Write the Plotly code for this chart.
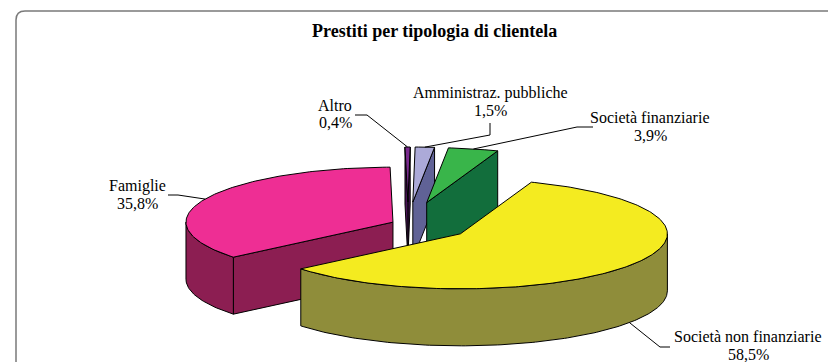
import numpy as np
import plotly.graph_objects as go

# --- data -------------------------------------------------------------------
categories = ["Altro", "Amministraz. pubbliche", "Società finanziarie",
              "Società non finanziarie", "Famiglie"]
shares = [0.4, 1.5, 3.9, 58.5, 35.8]          # percent of total loans

# --- styling ----------------------------------------------------------------
top_colors = ["#7A2A8E", "#ACAAD8", "#39B54A", "#F4EB20", "#EE2E94"]
side_colors = ["#4A1458", "#606296", "#126E3C", "#8F8D3A", "#8C1E52"]
pull = [0.40, 0.40, 0.40, 0.31, 0.08]          # explosion, fraction of radius

# label text centres and leader-line elbows (pixel space)
label_pos = [(335, 114), (490, 102), (650, 126.5), (748, 345.5), (137, 194.5)]
elbows = [[(355, 115), (367, 115)],
          [(490, 123), (490, 135)],
          [(593, 127), (577, 127)],
          [(670, 347), (660, 347)],
          [(168, 195), (178, 195)]]
LINE_GAP = 17.5

W, H = 828, 362
CX, CY = 408.0, 224.0        # pie centre
RX, RY = 207.0, 55.0         # ellipse radii of the top face
DEPTH = 57.0                 # thickness of the pie
START = 90.8                 # angle (deg) where the first slice begins, clockwise
FONT = "Liberation Serif, Times New Roman, serif"


def rim(cx, cy, t, dz=0.0):
    r = np.radians(t)
    return cx + RX * np.cos(r), cy - RY * np.sin(r) + dz


def arc(cx, cy, a, b, dz=0.0):
    n = max(2, int(abs(b - a)) + 2)
    ts = np.linspace(a, b, n)
    xs, ys = rim(cx, cy, ts, dz)
    return list(xs), list(ys)


def front_ranges(lo, hi):
    """Parts of [lo, hi] where the outer wall faces the viewer (sin < 0)."""
    out = []
    for k in range(-3, 3):
        a, b = -180 + 360 * k, 360 * k
        s, e = max(lo, a), min(hi, b)
        if e > s:
            out.append((s, e))
    return out


total = sum(shares)
fig = go.Figure()


def poly(xs, ys, color):
    xs = list(xs) + [xs[0]]
    ys = list(ys) + [ys[0]]
    fig.add_trace(go.Scatter(x=xs, y=ys, mode="lines", fill="toself",
                             fillcolor=color, line=dict(color="black", width=1),
                             hoverinfo="skip", showlegend=False))


slices = []
cum = 0.0
for i, v in enumerate(shares):
    hi = START - cum / total * 360.0
    lo = hi - v / total * 360.0
    cum += v
    mid = (hi + lo) / 2.0
    mr = np.radians(mid)
    e = pull[i] * RX
    cx = CX + e * np.cos(mr)
    cy = CY - e * (RY / RX) * np.sin(mr)
    slices.append(dict(i=i, hi=hi, lo=lo, mid=mid, cx=cx, cy=cy))

# back slices first, front slices last
for s in sorted(slices, key=lambda d: -np.sin(np.radians(d["mid"]))):
    i, hi, lo, cx, cy = s["i"], s["hi"], s["lo"], s["cx"], s["cy"]
    # radial walls that face the viewer
    for t, visible in ((lo, np.cos(np.radians(lo)) > 0),
                       (hi, np.cos(np.radians(hi)) < 0)):
        if visible:
            rx_, ry_ = rim(cx, cy, t)
            poly([cx, rx_, rx_, cx], [cy, ry_, ry_ + DEPTH, cy + DEPTH],
                 side_colors[i])
    # curved outer wall
    for a, b in front_ranges(lo, hi):
        xt, yt = arc(cx, cy, a, b)
        xb, yb = arc(cx, cy, b, a, DEPTH)
        poly(xt + xb, yt + yb, side_colors[i])
    # top face
    xa, ya = arc(cx, cy, hi, lo)
    poly([cx] + xa, [cy] + ya, top_colors[i])

# leader lines and two-line labels (name, percentage)
annotations = []
for s in slices:
    i, mid = s["i"], s["mid"]
    dz = DEPTH if np.sin(np.radians(mid)) < 0 else 0.0
    ax_, ay_ = rim(s["cx"], s["cy"], mid, dz)
    pts = elbows[i] + [(ax_, ay_)]
    fig.add_trace(go.Scatter(x=[p[0] for p in pts], y=[p[1] for p in pts],
                             mode="lines", line=dict(color="black", width=1),
                             hoverinfo="skip", showlegend=False))
    pct = f"{shares[i]:.1f}".replace(".", ",") + "%"
    lx, ly = label_pos[i]
    for txt, yy in ((categories[i], ly - LINE_GAP / 2),
                    (pct, ly + LINE_GAP / 2)):
        annotations.append(dict(x=lx, y=yy, xref="x", yref="y", text=txt,
                                showarrow=False, xanchor="center",
                                yanchor="middle",
                                font=dict(family=FONT, size=16, color="black")))

annotations.append(dict(x=434, y=31, xref="x", yref="y",
                        text="<b>Prestiti per tipologia di clientela</b>",
                        showarrow=False, xanchor="center", yanchor="middle",
                        font=dict(family=FONT, size=18, color="black")))

# rounded chart frame (open to the right and bottom)
frame = "M 16 370 L 16 20 Q 16 11 25 11 L 840 11"

fig.update_layout(
    width=W, height=H,
    margin=dict(l=0, r=0, t=0, b=0),
    paper_bgcolor="white", plot_bgcolor="white",
    font=dict(family=FONT),
    xaxis=dict(range=[0, W], visible=False, fixedrange=True),
    yaxis=dict(range=[H, 0], visible=False, fixedrange=True),
    annotations=annotations,
    shapes=[dict(type="path", path=frame, xref="x", yref="y",
                 line=dict(color="#7A7A7A", width=1.5))],
)

fig.write_html("out.html")
